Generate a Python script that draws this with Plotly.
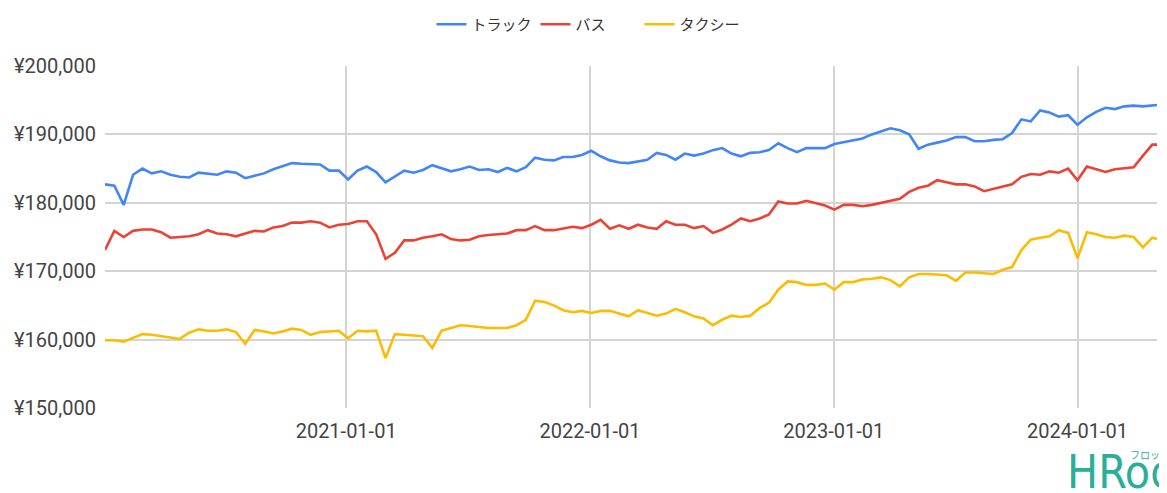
import pandas as pd
import plotly.graph_objects as go

# dates: every 2 weeks from 2020-01-06, plus final observation
dates = list(pd.date_range("2020-01-06", periods=113, freq="14D")) + [pd.Timestamp("2024-04-29")]

truck = [182700, 182500, 179700, 184100, 185000, 184300, 184600, 184100, 183800, 183700,
         184400, 184300, 184100, 184600, 184400, 183600, 184000, 184300, 184900, 185300,
         185800, 185700, 185600, 185600, 184700, 184700, 183400, 184700, 185300, 184500,
         183000, 183800, 184700, 184400, 184800, 185500, 185000, 184600, 184900, 185300,
         184800, 184900, 184500, 185100, 184600, 185200, 186600, 186300, 186200, 186700,
         186700, 187000, 187600, 186800, 186200, 185900, 185800, 186000, 186300, 187300,
         187000, 186300, 187200, 186900, 187200, 187700, 188000, 187200, 186800, 187300,
         187400, 187700, 188700, 188000, 187400, 188000, 188000, 188000, 188600, 188900,
         189100, 189400, 190000, 190500, 190900, 190600, 190000, 187900, 188500, 188800,
         189100, 189600, 189600, 189000, 189000, 189200, 189300, 190200, 192200, 191900,
         193500, 193200, 192600, 192800, 191400, 192500, 193300, 193900, 193700, 194100,
         194200, 194100, 194300, 194300]

bus = [173100, 175900, 175000, 175900, 176100, 176100, 175700, 174900, 175000, 175100,
       175400, 176000, 175500, 175400, 175100, 175500, 175900, 175800, 176400, 176600,
       177100, 177100, 177300, 177100, 176400, 176800, 176900, 177300, 177300, 175400,
       171800, 172700, 174500, 174500, 174900, 175100, 175400, 174700, 174500, 174600,
       175100, 175300, 175400, 175500, 176000, 176000, 176600, 176000, 176000, 176300,
       176500, 176300, 176800, 177500, 176200, 176700, 176200, 176800, 176400, 176200,
       177300, 176800, 176800, 176300, 176600, 175600, 176100, 176800, 177700, 177300,
       177700, 178300, 180200, 179900, 179900, 180300, 180000, 179600, 179000, 179700,
       179700, 179500, 179700, 180000, 180300, 180600, 181600, 182200, 182500, 183300,
       183000, 182700, 182700, 182400, 181700, 182000, 182300, 182700, 183800, 184200,
       184100, 184600, 184400, 185000, 183300, 185300, 184900, 184500, 184900, 185100,
       185200, 186900, 188500, 188500]

taxi = [159900, 159900, 159700, 160200, 160800, 160700, 160500, 160400, 160100, 161000,
        161500, 161300, 161300, 161500, 161100, 159400, 161400, 161200, 160900, 161200,
        161600, 161400, 160700, 161100, 161200, 161300, 160200, 161300, 161200, 161300,
        157300, 160800, 160700, 160600, 160500, 158800, 161300, 161700, 162100, 162000,
        161800, 161700, 161700, 161700, 162100, 162900, 165700, 165500, 165000, 164300,
        164000, 164200, 163900, 164200, 164200, 163800, 163400, 164300, 163900, 163500,
        163800, 164500, 164000, 163400, 163100, 162100, 162900, 163500, 163300, 163500,
        164600, 165400, 167300, 168500, 168400, 168000, 168000, 168200, 167300, 168400,
        168400, 168800, 168900, 169100, 168700, 167800, 169100, 169600, 169600, 169500,
        169400, 168600, 169800, 169800, 169700, 169600, 170200, 170600, 173100, 174600,
        174900, 175100, 176000, 175600, 171900, 175700, 175400, 175000, 174900, 175200,
        175000, 173500, 174900, 174700]

names = ["トラック", "バス", "タクシー"]
colors = ["#4285F4", "#EA4335", "#FBBC04"]
series = [truck, bus, taxi]

year_ticks = ["2021-01-01", "2022-01-01", "2023-01-01", "2024-01-01"]
y_ticks = [150000, 160000, 170000, 180000, 190000, 200000]
y_labels = [f"¥{v:,}" for v in y_ticks]

fig = go.Figure()
for name, color, vals in zip(names, colors, series):
    fig.add_trace(go.Scatter(x=dates, y=vals, mode="lines", name=name,
                             line=dict(color=color, width=2.6)))

# the page body has an 8px margin, so the figure is sized to the visible area
fig.update_layout(
    width=1159, height=485,
    paper_bgcolor="white", plot_bgcolor="white",
    margin=dict(l=97, r=10, t=58, b=85, autoexpand=False),
    font=dict(family="Roboto, 'Noto Sans CJK JP', sans-serif", color="#444444", size=20),
    legend=dict(orientation="h", xref="container", yref="container",
                x=0.5, xanchor="center", y=1.0, yanchor="top",
                font=dict(size=15, color="#333333",
                          family="'Noto Sans CJK JP', Roboto, sans-serif"),
                itemwidth=30, entrywidth=59, entrywidthmode="pixels"),
    showlegend=True,
)
fig.update_xaxes(range=["2020-01-06", "2024-04-29"], tickvals=year_ticks, ticktext=year_ticks,
                 showgrid=True, gridcolor="#d4d4d4", gridwidth=1.5, showline=False,
                 zeroline=False, ticks="", ticklabelstandoff=9,
                 tickfont=dict(size=20, color="#444444"))
fig.update_yaxes(range=[150000, 200000], tickvals=y_ticks, ticktext=y_labels,
                 showgrid=True, gridcolor="#d4d4d4", gridwidth=1.5, showline=False,
                 zeroline=False, ticks="", ticklabelstandoff=8,
                 tickfont=dict(size=20, color="#444444"))

# watermark logo (partly cut off at the right edge, as in the reference)
fig.add_annotation(xref="paper", yref="paper", x=0.9125, y=-0.187, xanchor="left", yanchor="middle",
                   text="HRog", showarrow=False,
                   font=dict(size=46, color="#2aae98", family="'DejaVu Sans Condensed', 'DejaVu Sans', sans-serif"))
fig.add_annotation(xref="paper", yref="paper", x=0.972, y=-0.135, xanchor="left", yanchor="middle",
                   text="フロッグ", showarrow=False,
                   font=dict(size=10, color="#2aae98", family="'Noto Sans CJK JP', sans-serif"))

fig.write_html("out.html")
